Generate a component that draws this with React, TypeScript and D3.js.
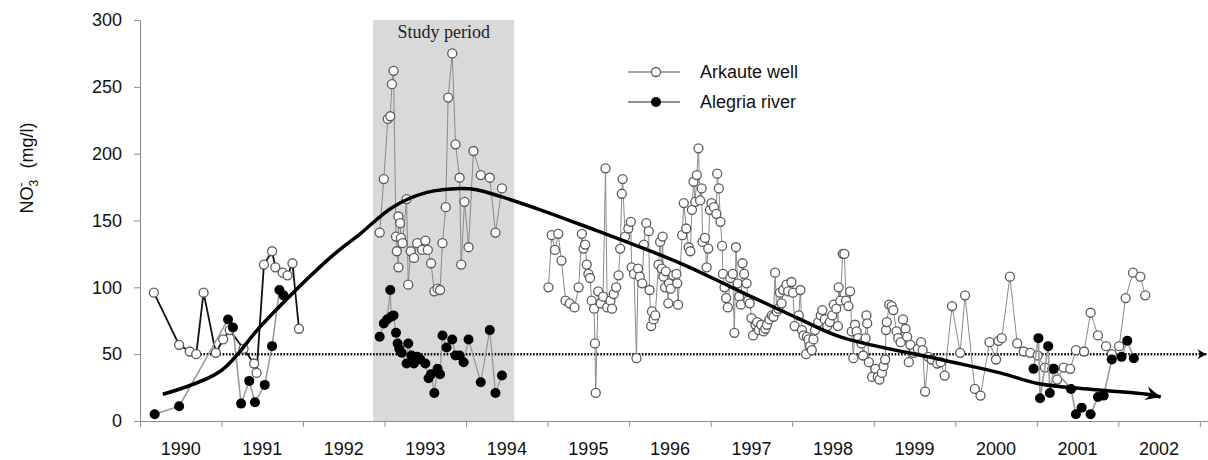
import React, { useEffect, useRef } from "react";
import * as d3 from "d3";

type Pt = [number, number];

// axis values
const yTicks = [0, 50, 100, 150, 200, 250, 300];
const yearTicks = d3.range(1990, 2004);
const yearLabels = d3.range(1990, 2003);
const studyPeriod: Pt = [1992.86, 1994.59];
const guideLevel = 50;
const guideSpan: Pt = [1990.7, 2003.08];

// Arkaute well (open circles)
const wellEarly: Pt[] = [
	[1990.17, 96], [1990.48, 57], [1990.61, 52], [1990.69, 50], [1990.78, 96], [1990.93, 51],
	[1991.02, 61], [1991.1, 68], [1991.27, 54], [1991.4, 43], [1991.43, 36], [1991.52, 117],
	[1991.62, 127], [1991.66, 115], [1991.75, 111], [1991.81, 109], [1991.87, 118], [1991.95, 69],
];

const wellStudy: Pt[] = [
	[1992.94, 141], [1992.99, 181], [1993.04, 226], [1993.07, 228], [1993.09, 252], [1993.11, 262],
	[1993.14, 138], [1993.15, 127], [1993.17, 115], [1993.17, 153], [1993.19, 148], [1993.2, 137],
	[1993.22, 133], [1993.27, 166], [1993.29, 102], [1993.32, 127], [1993.36, 122], [1993.4, 133],
	[1993.46, 128], [1993.5, 135], [1993.53, 128], [1993.57, 118], [1993.61, 97], [1993.65, 99],
	[1993.68, 98], [1993.71, 133], [1993.75, 160], [1993.78, 242], [1993.83, 275], [1993.87, 207],
	[1993.92, 182], [1993.94, 117], [1993.98, 164], [1994.03, 130], [1994.09, 202], [1994.18, 184],
	[1994.29, 182], [1994.36, 141], [1994.44, 174],
];

const wellLate: Pt[] = [
	[1995.01, 100], [1995.05, 139], [1995.09, 128], [1995.13, 140], [1995.17, 120], [1995.22, 90],
	[1995.27, 88], [1995.33, 85], [1995.38, 100], [1995.42, 140], [1995.44, 129], [1995.46, 132],
	[1995.48, 117], [1995.5, 110], [1995.52, 107], [1995.54, 90], [1995.57, 84], [1995.58, 58],
	[1995.59, 21], [1995.62, 97], [1995.65, 88], [1995.68, 93], [1995.71, 189], [1995.73, 85],
	[1995.77, 90], [1995.79, 84], [1995.81, 95], [1995.84, 100], [1995.87, 109], [1995.89, 129],
	[1995.91, 170], [1995.92, 181], [1995.95, 138], [1995.99, 144], [1996.02, 149], [1996.03, 115],
	[1996.06, 110], [1996.09, 47], [1996.11, 114], [1996.13, 108], [1996.16, 103], [1996.18, 132],
	[1996.21, 148], [1996.24, 142], [1996.25, 98], [1996.27, 71], [1996.28, 82], [1996.3, 76],
	[1996.32, 79], [1996.36, 117], [1996.38, 134], [1996.4, 114], [1996.41, 138], [1996.42, 108],
	[1996.44, 100], [1996.45, 112], [1996.48, 88], [1996.49, 103], [1996.51, 99], [1996.54, 109],
	[1996.58, 110], [1996.59, 103], [1996.6, 87], [1996.65, 139], [1996.67, 163], [1996.7, 144],
	[1996.73, 130], [1996.75, 127], [1996.77, 158], [1996.79, 179], [1996.81, 164], [1996.83, 184],
	[1996.85, 204], [1996.87, 165], [1996.89, 174], [1996.9, 134], [1996.93, 137], [1996.95, 115],
	[1996.97, 129], [1996.99, 158], [1997.01, 163], [1997.04, 160], [1997.07, 155], [1997.08, 185],
	[1997.1, 174], [1997.12, 149], [1997.14, 131], [1997.15, 110], [1997.17, 100], [1997.19, 92],
	[1997.21, 85], [1997.24, 107], [1997.27, 110], [1997.29, 66], [1997.31, 130], [1997.33, 103],
	[1997.35, 93], [1997.37, 87], [1997.39, 118], [1997.41, 110], [1997.44, 103], [1997.46, 90],
	[1997.48, 88], [1997.5, 77], [1997.52, 64], [1997.55, 72], [1997.57, 74], [1997.59, 68],
	[1997.62, 72], [1997.65, 67], [1997.67, 69], [1997.69, 72], [1997.72, 76], [1997.75, 79],
	[1997.77, 78], [1997.79, 111], [1997.81, 82], [1997.83, 84], [1997.85, 96], [1997.87, 88],
	[1997.89, 98], [1997.93, 102], [1997.95, 97], [1997.99, 104], [1998.01, 96], [1998.03, 71],
	[1998.08, 79], [1998.1, 98], [1998.12, 68], [1998.14, 64], [1998.17, 50], [1998.18, 63],
	[1998.2, 61], [1998.22, 56], [1998.24, 53], [1998.26, 61], [1998.28, 68], [1998.32, 74],
	[1998.35, 79], [1998.37, 83], [1998.4, 76], [1998.43, 71], [1998.46, 74], [1998.49, 79],
	[1998.51, 87], [1998.54, 84], [1998.56, 71], [1998.57, 100], [1998.59, 90], [1998.62, 125],
	[1998.64, 125], [1998.66, 90], [1998.69, 86], [1998.71, 97], [1998.73, 67], [1998.75, 47],
	[1998.77, 72], [1998.79, 67], [1998.81, 62], [1998.85, 58], [1998.87, 49], [1998.9, 62],
	[1998.91, 79], [1998.92, 73], [1998.94, 44], [1998.98, 33], [1999.02, 39], [1999.05, 33],
	[1999.07, 31], [1999.1, 36], [1999.12, 41], [1999.14, 46], [1999.15, 68], [1999.16, 74],
	[1999.19, 87], [1999.22, 86], [1999.24, 83], [1999.28, 67], [1999.3, 62], [1999.33, 59],
	[1999.36, 76], [1999.39, 69], [1999.41, 63], [1999.43, 44], [1999.45, 57], [1999.49, 51],
	[1999.54, 54], [1999.58, 59], [1999.6, 53], [1999.63, 22], [1999.67, 48], [1999.71, 46],
	[1999.78, 43], [1999.82, 44], [1999.87, 34], [1999.96, 86], [2000.06, 51], [2000.12, 94],
	[2000.24, 24], [2000.31, 19], [2000.42, 59], [2000.5, 46], [2000.53, 60], [2000.57, 62],
	[2000.67, 108], [2000.76, 58], [2000.84, 52], [2000.92, 51], [2001.01, 49], [2001.1, 40],
	[2001.19, 39], [2001.25, 31], [2001.33, 40], [2001.41, 39], [2001.48, 53], [2001.58, 52],
	[2001.66, 81], [2001.75, 64], [2001.85, 56], [2001.92, 50], [2002.01, 56], [2002.09, 92],
	[2002.18, 111], [2002.27, 108], [2002.33, 94],
];

// Alegria river (black dots)
const riverEarly: Pt[] = [
	[1990.18, 5], [1990.48, 11], [1991.08, 76], [1991.14, 70], [1991.24, 13], [1991.34, 30],
	[1991.41, 14], [1991.53, 27], [1991.62, 56], [1991.71, 98], [1991.76, 94],
];

const riverStudy: Pt[] = [
	[1992.94, 63], [1992.99, 73], [1993.03, 76], [1993.07, 98], [1993.08, 78], [1993.11, 79],
	[1993.14, 66], [1993.16, 58], [1993.18, 54], [1993.21, 51], [1993.27, 43], [1993.29, 58],
	[1993.33, 49], [1993.36, 43], [1993.4, 48], [1993.44, 46], [1993.5, 43], [1993.54, 32],
	[1993.57, 35], [1993.61, 21], [1993.65, 39], [1993.68, 35], [1993.71, 64], [1993.76, 55],
	[1993.83, 61], [1993.87, 49], [1993.92, 49], [1993.97, 44], [1994.03, 61], [1994.18, 29],
	[1994.29, 68], [1994.36, 21], [1994.44, 34],
];

const riverLate: Pt[] = [
	[2000.96, 39], [2001.02, 62], [2001.04, 17], [2001.14, 56], [2001.16, 21], [2001.21, 39],
	[2001.42, 24], [2001.48, 5], [2001.55, 10], [2001.66, 5], [2001.75, 18], [2001.82, 19],
	[2001.92, 46], [2002.04, 48], [2002.11, 60], [2002.19, 47],
];

// hand-drawn trend
const trendCurve: Pt[] = [
	[1990.28, 20], [1990.98, 37], [1991.51, 73], [1992.33, 122], [1992.7, 140], [1993.1, 160],
	[1993.52, 171], [1993.93, 174], [1994.13, 173], [1994.42, 168], [1994.91, 158], [1995.4, 147],
	[1996.63, 118], [1997.36, 97], [1998.1, 76], [1998.59, 63], [1999.82, 46], [2000.55, 36],
	[2001.01, 28], [2001.41, 25], [2002.36, 20], [2002.52, 18],
];

const FONT = "Arial, 'Liberation Sans', sans-serif";

export default function App() {
	const svgRef = useRef<SVGSVGElement | null>(null);

	useEffect(() => {
		if (!svgRef.current) return;
		const svg = d3.select(svgRef.current);
		svg.selectAll("*").remove();

		const width = 1208;
		const height = 460;
		const x = d3.scaleLinear().domain([1990, 2003.1]).range([140, width]);
		const y = d3.scaleLinear().domain([0, 300]).range([421, 20]);

		const defs = svg.append("defs");
		defs
			.append("marker")
			.attr("id", "trendArrow")
			.attr("viewBox", "-16 -8 18 16")
			.attr("markerUnits", "userSpaceOnUse")
			.attr("markerWidth", 18)
			.attr("markerHeight", 16)
			.attr("refX", 0)
			.attr("refY", 0)
			.attr("orient", "auto")
			.append("path")
			.attr("d", "M0,0 L-15,-7 L-10,0 L-15,7 Z")
			.attr("fill", "#000");
		defs
			.append("marker")
			.attr("id", "guideArrow")
			.attr("viewBox", "-10 -6 11 12")
			.attr("markerUnits", "userSpaceOnUse")
			.attr("markerWidth", 11)
			.attr("markerHeight", 12)
			.attr("refX", 0)
			.attr("refY", 0)
			.attr("orient", "auto")
			.append("path")
			.attr("d", "M0,0 L-9,-5 L-6,0 L-9,5 Z")
			.attr("fill", "#000");

		// study period band
		svg
			.append("rect")
			.attr("x", x(studyPeriod[0]))
			.attr("y", y(300))
			.attr("width", x(studyPeriod[1]) - x(studyPeriod[0]))
			.attr("height", y(0) - y(300))
			.attr("fill", "#d9d9d9");
		svg
			.append("text")
			.attr("x", (x(studyPeriod[0]) + x(studyPeriod[1])) / 2)
			.attr("y", 38)
			.attr("text-anchor", "middle")
			.attr("font-family", "'Liberation Serif', 'DejaVu Serif', serif")
			.attr("font-size", 18)
			.attr("fill", "#222")
			.text("Study period");

		// axes
		const yAxis = svg
			.append("g")
			.attr("transform", `translate(${x(1990)},0)`)
			.call(d3.axisLeft(y).tickValues(yTicks).tickSize(6).tickSizeOuter(0).tickPadding(12));
		yAxis.select(".domain").attr("stroke", "#8c8c8c");
		yAxis.selectAll(".tick line").attr("stroke", "#8c8c8c");
		yAxis.selectAll("text").attr("font-family", FONT).attr("font-size", 18).attr("fill", "#111");

		const xAxis = svg
			.append("g")
			.attr("transform", `translate(0,${y(0)})`)
			.call(d3.axisBottom(x).tickValues(yearTicks).tickSize(6).tickSizeOuter(0).tickFormat(() => ""));
		xAxis.select(".domain").attr("stroke", "#8c8c8c");
		xAxis.selectAll(".tick line").attr("stroke", "#8c8c8c");

		svg
			.append("g")
			.selectAll("text")
			.data(yearLabels)
			.enter()
			.append("text")
			.attr("x", (d) => x(d + 0.5))
			.attr("y", 455)
			.attr("text-anchor", "middle")
			.attr("font-family", FONT)
			.attr("font-size", 18)
			.attr("fill", "#111")
			.text((d) => d);

		// y label
		const yl = svg
			.append("text")
			.attr("transform", "translate(33,168) rotate(-90)")
			.attr("text-anchor", "middle")
			.attr("font-family", FONT)
			.attr("font-size", 18)
			.attr("fill", "#111");
		yl.append("tspan").text("NO");
		yl.append("tspan").attr("font-size", 12).attr("dy", 5).text("3");
		yl.append("tspan").attr("font-size", 13).attr("dx", -7).attr("dy", -13).text("-");
		yl.append("tspan").attr("dy", 8).attr("dx", 4).text("\u00a0\u00a0(mg/l)");

		// 50 mg/l guide
		svg
			.append("line")
			.attr("x1", x(guideSpan[0]))
			.attr("x2", x(guideSpan[1]))
			.attr("y1", y(guideLevel))
			.attr("y2", y(guideLevel))
			.attr("stroke", "#000")
			.attr("stroke-width", 2.5)
			.attr("stroke-dasharray", "1.6,1.6")
			.attr("marker-end", "url(#guideArrow)");

		const line = d3
			.line<Pt>()
			.x((d) => x(d[0]))
			.y((d) => y(d[1]));

		const drawLine = (data: Pt[], color: string, w: number) =>
			svg
				.append("path")
				.datum(data)
				.attr("d", line)
				.attr("fill", "none")
				.attr("stroke", color)
				.attr("stroke-width", w)
				.attr("stroke-linejoin", "round");

		// well
		drawLine(wellEarly, "#111", 1.8);
		drawLine(wellStudy, "#8a8a8a", 1);
		drawLine(wellLate, "#8a8a8a", 1);
		svg
			.append("g")
			.selectAll("circle")
			.data([...wellEarly, ...wellStudy, ...wellLate])
			.enter()
			.append("circle")
			.attr("cx", (d) => x(d[0]))
			.attr("cy", (d) => y(d[1]))
			.attr("r", 4.5)
			.attr("fill", "#fff")
			.attr("stroke", "#5a5a5a")
			.attr("stroke-width", 1.3);

		// river
		drawLine(riverEarly, "#9a9a9a", 1.6);
		drawLine(riverStudy, "#9a9a9a", 1.3);
		drawLine(riverLate, "#9a9a9a", 1.6);
		svg
			.append("g")
			.selectAll("circle")
			.data([...riverEarly, ...riverStudy, ...riverLate])
			.enter()
			.append("circle")
			.attr("cx", (d) => x(d[0]))
			.attr("cy", (d) => y(d[1]))
			.attr("r", 5)
			.attr("fill", "#000");

		// trend curve
		svg
			.append("path")
			.datum(trendCurve)
			.attr("d", line.curve(d3.curveCatmullRom.alpha(0.5)))
			.attr("fill", "none")
			.attr("stroke", "#000")
			.attr("stroke-width", 3.5)
			.attr("marker-end", "url(#trendArrow)");

		// legend
		const legend = svg.append("g").attr("font-family", FONT).attr("font-size", 18).attr("fill", "#111");
		const items = [
			{ label: "Arkaute well", lineColor: "#8a8a8a", fill: "#fff", stroke: "#5a5a5a", r: 4.5 },
			{ label: "Alegria river", lineColor: "#6a6a6a", fill: "#000", stroke: "none", r: 5 },
		];
		items.forEach((it, i) => {
			const cy = 72 + i * 30;
			legend.append("line").attr("x1", 628).attr("x2", 680).attr("y1", cy).attr("y2", cy).attr("stroke", it.lineColor).attr("stroke-width", 1.6);
			legend
				.append("circle")
				.attr("cx", 656)
				.attr("cy", cy)
				.attr("r", it.r)
				.attr("fill", it.fill)
				.attr("stroke", it.stroke)
				.attr("stroke-width", 1.3);
			legend.append("text").attr("x", 700).attr("y", cy + 6).text(it.label);
		});
	}, []);

	return (
		<svg
			ref={svgRef}
			width={1208}
			height={460}
			style={{ position: "absolute", left: 0, top: 0, display: "block", background: "#fff" }}
		></svg>
	);
}
